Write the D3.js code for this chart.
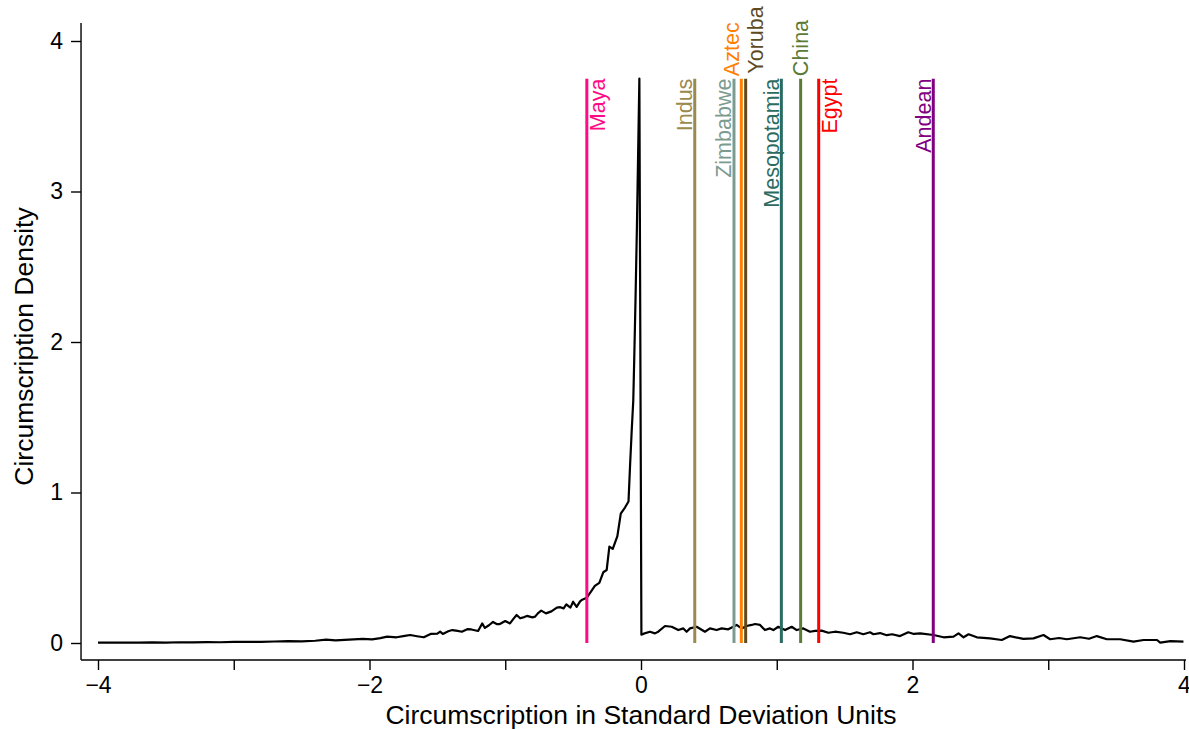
<!DOCTYPE html>
<html>
<head>
<meta charset="utf-8">
<script src="https://cdn.jsdelivr.net/npm/d3@7"></script>
<style>
  html, body { margin: 0; padding: 0; background: #fff; }
  svg { display: block; font-family: "Liberation Sans", Arial, Helvetica, sans-serif; }
</style>
</head>
<body>
<svg id="chart" width="1189" height="729"></svg>
<script>
// ---------------- DATA ----------------
const densityX = [
  -4.00, -3.90, -3.80, -3.70, -3.60, -3.50, -3.40, -3.30, -3.20, -3.10,
  -3.00, -2.90, -2.80, -2.70, -2.60, -2.50, -2.40, -2.32, -2.25, -2.15,
  -2.05, -1.98, -1.92, -1.87, -1.80, -1.74, -1.70, -1.65, -1.60, -1.55,
  -1.50, -1.48, -1.46, -1.42, -1.39, -1.35, -1.32, -1.28, -1.25, -1.20,
  -1.17, -1.15, -1.12, -1.09, -1.06, -1.04, -1.00, -0.965, -0.94, -0.916,
  -0.89, -0.86, -0.84, -0.80, -0.78, -0.76, -0.735, -0.70, -0.66, -0.62,
  -0.595, -0.57, -0.55, -0.52, -0.50, -0.474, -0.45, -0.437, -0.40, -0.34,
  -0.307, -0.278, -0.253, -0.233, -0.208, -0.174, -0.149, -0.118, -0.092, -0.081,
  -0.069, -0.057, -0.05, -0.04, -0.03, -0.012, 0.003, 0.02, 0.066, 0.103,
  0.127, 0.177, 0.226, 0.275, 0.312, 0.336, 0.361, 0.410, 0.471, 0.508,
  0.557, 0.594, 0.643, 0.680, 0.704, 0.741, 0.778, 0.815, 0.840, 0.877,
  0.913, 0.950, 0.975, 1.011, 1.061, 1.110, 1.147, 1.196, 1.245, 1.282,
  1.331, 1.380, 1.429, 1.490, 1.540, 1.589, 1.638, 1.687, 1.712, 1.761,
  1.81, 1.85, 1.908, 1.969, 2.010, 2.057, 2.155, 2.229, 2.302, 2.339,
  2.376, 2.413, 2.474, 2.571, 2.658, 2.718, 2.817, 2.891, 2.965, 3.014,
  3.080, 3.137, 3.235, 3.300, 3.358, 3.432, 3.530, 3.628, 3.702, 3.801,
  3.825, 3.900, 3.996
];
const densityY = [
  0.002, 0.002, 0.003, 0.003, 0.004, 0.003, 0.005, 0.004, 0.006, 0.005,
  0.007, 0.008, 0.007, 0.010, 0.012, 0.011, 0.015, 0.022, 0.018, 0.022,
  0.027, 0.024, 0.032, 0.042, 0.038, 0.047, 0.053, 0.045, 0.038, 0.060,
  0.062, 0.075, 0.060, 0.078, 0.086, 0.080, 0.075, 0.092, 0.090, 0.080,
  0.130, 0.100, 0.118, 0.140, 0.125, 0.126, 0.146, 0.130, 0.160, 0.186,
  0.164, 0.172, 0.180, 0.170, 0.175, 0.197, 0.215, 0.197, 0.210, 0.235,
  0.238, 0.230, 0.257, 0.235, 0.274, 0.240, 0.275, 0.286, 0.300, 0.379,
  0.400, 0.470, 0.485, 0.640, 0.625, 0.710, 0.860, 0.900, 0.940, 1.170,
  1.400, 1.610, 1.880, 2.300, 2.770, 3.750, 0.055, 0.062, 0.075, 0.064,
  0.075, 0.113, 0.108, 0.086, 0.097, 0.075, 0.097, 0.108, 0.075, 0.097,
  0.086, 0.097, 0.091, 0.108, 0.120, 0.097, 0.113, 0.120, 0.126, 0.120,
  0.086, 0.097, 0.086, 0.108, 0.086, 0.108, 0.086, 0.097, 0.075, 0.080,
  0.082, 0.068, 0.075, 0.068, 0.058, 0.071, 0.058, 0.071, 0.058, 0.066,
  0.052, 0.058, 0.046, 0.071, 0.060, 0.064, 0.053, 0.038, 0.042, 0.064,
  0.038, 0.058, 0.038, 0.031, 0.020, 0.046, 0.027, 0.031, 0.053, 0.025,
  0.033, 0.025, 0.038, 0.028, 0.046, 0.025, 0.025, 0.009, 0.020, 0.020,
  0.002, 0.012, 0.009
];

const civNames  = ["Maya", "Indus", "Zimbabwe", "Aztec", "Yoruba", "Mesopotamia", "China", "Egypt", "Andean"];
const civValues = [-0.399, 0.396, 0.685, 0.739, 0.771, 1.034, 1.176, 1.309, 2.153];
const civLineTop = 3.75;

const xTickValues = [-4, -3, -2, -1, 0, 1, 2, 3, 4];
const yTickValues = [0, 1, 2, 3, 4];

const xTitle = "Circumscription in Standard Deviation Units";
const yTitle = "Circumscription Density";

// ---------------- STYLE ----------------
const civColors = {
  Maya: "#ff0a84", Indus: "#9a8a4e", Zimbabwe: "#7c9b8f", Aztec: "#ff8000",
  Yoruba: "#5e4a1f", Mesopotamia: "#2b6b62", China: "#5b7b36", Egypt: "#ff0000",
  Andean: "#800080"
};
const civPlacement = {
  Maya: "right", Indus: "left", Zimbabwe: "left", Aztec: "aboveLeft",
  Yoruba: "aboveRight", Mesopotamia: "left", China: "above", Egypt: "right",
  Andean: "left"
};

// ---------------- CHART ----------------
const svg = d3.select("#chart");
const x = d3.scaleLinear().domain([-4, 4]).range([98, 1184]);
const y = d3.scaleLinear().domain([0, 4]).range([643, 41]);

const axisLeftX = x(-4.125), axisRightX = x(4.015);
const axisBottomY = y(-0.113), axisTopY = y(4.12);

const labelFont = 21.5, tickFont = 23, titleFont = 26.5;
const minus = v => (v < 0 ? "\u2212" : "") + Math.abs(v);

// axes lines
svg.append("line").attr("x1", axisLeftX).attr("x2", axisLeftX)
  .attr("y1", axisTopY).attr("y2", axisBottomY)
  .attr("stroke", "#000").attr("stroke-width", 1.4);
svg.append("line").attr("x1", axisLeftX).attr("x2", axisRightX)
  .attr("y1", axisBottomY).attr("y2", axisBottomY)
  .attr("stroke", "#000").attr("stroke-width", 1.4);

// x axis ticks
const xAxis = d3.axisBottom(x).tickValues(xTickValues).tickSize(10).tickPadding(7)
  .tickFormat(d => (d % 2 === 0 ? minus(d) : ""));
const gx = svg.append("g").attr("transform", `translate(0,${axisBottomY})`).call(xAxis);
gx.select(".domain").remove();
gx.selectAll(".tick line").attr("stroke", "#000").attr("stroke-width", 1.4);
gx.selectAll(".tick text").attr("font-size", tickFont).attr("fill", "#000")
  .attr("font-family", "Liberation Sans, Arial, sans-serif");

// y axis ticks
const yAxis = d3.axisLeft(y).tickValues(yTickValues).tickSize(10).tickPadding(8)
  .tickFormat(d => String(d));
const gy = svg.append("g").attr("transform", `translate(${axisLeftX},0)`).call(yAxis);
gy.select(".domain").remove();
gy.selectAll(".tick line").attr("stroke", "#000").attr("stroke-width", 1.4);
gy.selectAll(".tick text").attr("font-size", tickFont).attr("fill", "#000")
  .attr("font-family", "Liberation Sans, Arial, sans-serif");

// titles
svg.append("text").attr("x", x(0)).attr("y", 724)
  .attr("text-anchor", "middle").attr("font-size", titleFont).attr("fill", "#000")
  .text(xTitle);
svg.append("text").attr("transform", `translate(33,${y(1.97)}) rotate(-90)`)
  .attr("text-anchor", "middle").attr("font-size", titleFont).attr("fill", "#000")
  .text(yTitle);

// density curve
const pts = densityX.map((d, i) => [d, densityY[i]]);
svg.append("path").datum(pts)
  .attr("fill", "none").attr("stroke", "#000").attr("stroke-width", 2.2)
  .attr("stroke-linejoin", "round")
  .attr("d", d3.line().x(d => x(d[0])).y(d => y(d[1])));

// civilization lines + labels
const civ = civNames.map((n, i) => ({ name: n, value: civValues[i] }));
const lineTopY = y(civLineTop);
svg.append("g").selectAll("line").data(civ).join("line")
  .attr("x1", d => x(d.value)).attr("x2", d => x(d.value))
  .attr("y1", lineTopY).attr("y2", y(0))
  .attr("stroke", d => civColors[d.name]).attr("stroke-width", 3);

civ.forEach(d => {
  const lx = x(d.value);
  const p = civPlacement[d.name];
  let bx, by, anchor;
  if (p === "left") { bx = lx - 2.5; by = lineTopY; anchor = "end"; }
  else if (p === "right") { bx = lx + 18; by = lineTopY; anchor = "end"; }
  else if (p === "aboveLeft") { bx = lx - 2; by = lineTopY - 2.5; anchor = "start"; }
  else if (p === "aboveRight") { bx = lx + 17; by = lineTopY - 5; anchor = "start"; }
  else { bx = lx + 7; by = lineTopY - 2.5; anchor = "start"; }
  svg.append("text")
    .attr("transform", `translate(${bx},${by}) rotate(-90)`)
    .attr("text-anchor", anchor)
    .attr("font-size", labelFont)
    .attr("fill", civColors[d.name])
    .text(d.name);
});
</script>
</body>
</html>
